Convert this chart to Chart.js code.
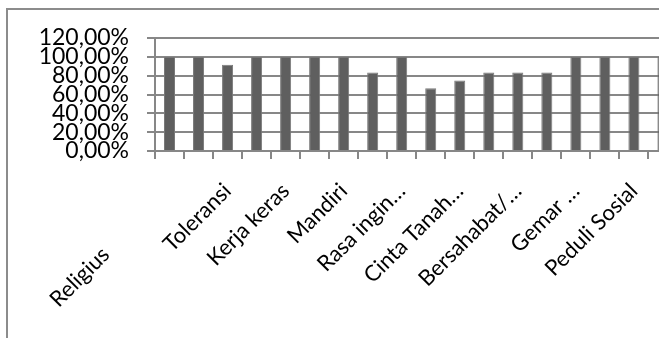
<!DOCTYPE html>
<html lang="id">
<head>
    <meta charset="UTF-8">
    <title>Nilai Karakter</title>
    <style>
        html, body {
            margin: 0;
            padding: 0;
            background: white;
            overflow: hidden;
            width: 659px;
            height: 338px;
        }
        #frame {
            position: absolute;
            left: 6px;
            top: 8px;
            width: 720px;
            height: 400px;
            border-left: 2px solid #8c8c8c;
            border-top: 2px solid #8c8c8c;
        }
        #wrap {
            position: absolute;
            left: 0;
            top: 0;
            width: 701px;
            height: 338px;
        }
    </style>
    <script src="https://cdn.jsdelivr.net/npm/chart.js"></script>
</head>
<body>
    <div id="frame"></div>
    <div id="wrap"><canvas id="chart"></canvas></div>
    <script>
        var categories = [
            'Religius', 'Jujur', 'Toleransi', 'Disiplin', 'Kerja keras', 'Kreatif',
            'Mandiri', 'Demokratis', 'Rasa ingin…', 'Semangat Kebangsaan', 'Cinta Tanah…',
            'Menghargai Prestasi', 'Bersahabat/…', 'Cinta Damai', 'Gemar …',
            'Peduli Lingkungan', 'Peduli Sosial', 'Tanggung Jawab'
        ];
        var values = [
            100, 100, 91.67, 100, 100, 100,
            100, 83.33, 100, 66.67, 75,
            83.33, 83.33, 83.33, 100,
            100, 100, 100
        ];
        var yTicks = [0, 20, 40, 60, 80, 100, 120];

        var gridGray = '#878787';

        var chart = new Chart(document.getElementById('chart'), {
            type: 'bar',
            data: {
                labels: categories,
                datasets: [{
                    data: values,
                    backgroundColor: '#5f5f5f',
                    borderColor: '#7a7a7a',
                    borderWidth: 1,
                    categoryPercentage: 1,
                    barPercentage: 0.38
                }]
            },
            options: {
                responsive: true,
                maintainAspectRatio: false,
                animation: false,
                layout: { padding: { top: 38, right: 15, left: 0, bottom: 0 } },
                plugins: {
                    legend: { display: false },
                    tooltip: { enabled: false }
                },
                scales: {
                    x: {
                        grid: {
                            drawOnChartArea: false,
                            drawTicks: true,
                            tickLength: 8,
                            color: gridGray,
                            lineWidth: 2
                        },
                        border: { color: gridGray, width: 2 },
                        ticks: {
                            autoSkip: false,
                            minRotation: 45,
                            maxRotation: 45,
                            padding: 19,
                            color: '#000',
                            font: { family: 'Lato', size: 22 },
                            // only every other category gets its label, like the original;
                            // the first one sits lower down in the original, so push it along
                            callback: function (v, i) {
                                if (i % 2 !== 0) return '';
                                if (i === 0) return categories[i] + ' '.repeat(16);
                                return categories[i];
                            }
                        },
                        afterFit: function (scale) { scale.height = 187; }
                    },
                    y: {
                        min: 0,
                        max: 120,
                        afterBuildTicks: function (scale) {
                            scale.ticks = yTicks.map(function (v) { return { value: v }; });
                        },
                        grid: {
                            color: gridGray,
                            lineWidth: 2,
                            tickLength: 8
                        },
                        border: { color: gridGray, width: 2 },
                        ticks: {
                            autoSkip: false,
                            padding: 18,
                            color: '#000',
                            font: { family: 'Lato', size: 23 },
                            callback: function (v) {
                                return v.toFixed(2).replace('.', ',') + '%';
                            }
                        },
                        afterFit: function (scale) { scale.width = 155; }
                    }
                }
            }
        });
    </script>
</body>
</html>
